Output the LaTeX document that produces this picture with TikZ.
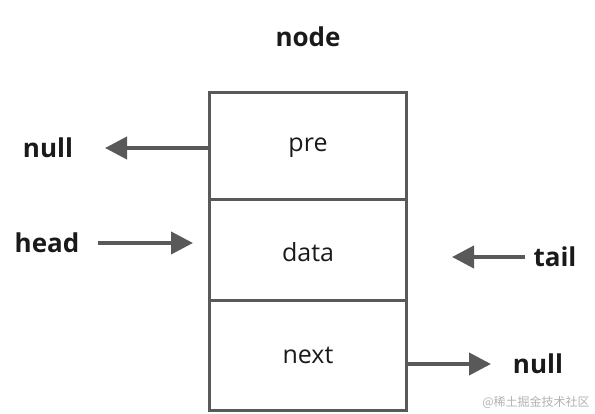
\documentclass[tikz,border=0pt]{standalone}
\usepackage{fontspec}
\setmainfont{Open Sans}
\newfontfamily\cjk{Noto Sans CJK SC}
\usetikzlibrary{arrows.meta}
\definecolor{linegray}{HTML}{595959}
\definecolor{txt}{HTML}{1A1A1A}
\begin{document}
\begin{tikzpicture}[x=1pt,y=-1pt,
  cell/.style={draw=linegray,line width=3pt,minimum width=197pt,inner sep=0pt},
  celltext/.style={font=\fontsize{25}{30}\selectfont,text=txt},
  lbl/.style={font=\fontsize{26}{31}\selectfont\bfseries,text=txt},
  arr/.style={draw=linegray,line width=4pt,-{Triangle[length=22pt,width=22pt]}}]
\useasboundingbox (0,0) rectangle (595,414);
\node[lbl] (title) at (308,37) {node};
\node[cell,minimum height=107pt] (pre) at (307.5,146.5) {};
\node[cell,minimum height=101pt] (data) at (307.5,250.5) {};
\node[cell,minimum height=109pt] (next) at (307.5,355.5) {};
\node[celltext] (tpre) at (308,148) {pre};
\node[celltext] (tdata) at (308,252) {data};
\node[celltext] (tnext) at (308,355) {next};
\node[lbl] (nullL) at (48,148) {null};
\node[lbl] (head) at (47,243) {head};
\node[lbl] (tail) at (555,257) {tail};
\node[lbl] (nullR) at (538,364) {null};
\coordinate (p1) at (105,148);
\coordinate (h0) at (98,243);
\coordinate (h1) at (193,243);
\coordinate (t0) at (525,257);
\coordinate (t1) at (452,257);
\coordinate (n1) at (491,364);
\draw[arr] (pre.west |- p1) -- (p1);
\draw[arr] (h0) -- (h1);
\draw[arr] (t0) -- (t1);
\draw[arr] (next.east |- n1) -- (n1);
\node[font=\cjk\fontsize{12}{14}\selectfont,text=gray!60] (wm) at (536,402) {@稀土掘金技术社区};
\end{tikzpicture}
\end{document}
